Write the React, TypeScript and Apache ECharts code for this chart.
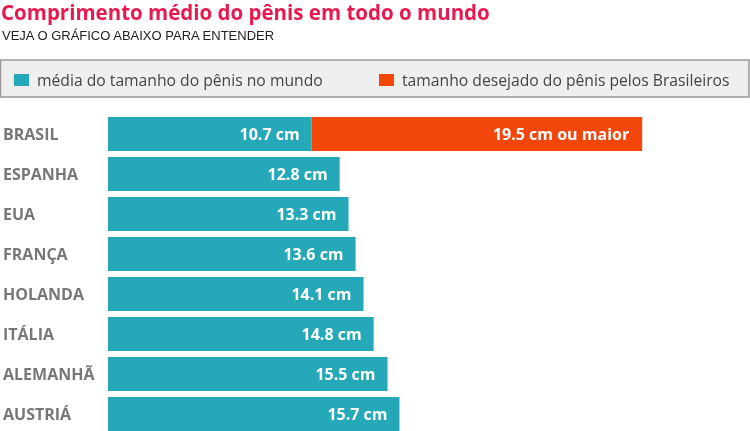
import React, { useEffect, useRef } from "react";
import * as echarts from "echarts";

const categories = ["BRASIL", "ESPANHA", "EUA", "FRANÇA", "HOLANDA", "ITÁLIA", "ALEMANHÃ", "AUSTRIÁ"];
// bar lengths as drawn in the picture (in cm-scale units)
const averageLength = [11.27, 12.82, 13.31, 13.7, 14.14, 14.7, 15.47, 16.13];
const averageLabels = ["10.7 cm", "12.8 cm", "13.3 cm", "13.6 cm", "14.1 cm", "14.8 cm", "15.5 cm", "15.7 cm"];
const desiredLength = [18.29, null, null, null, null, null, null, null];
const desiredLabels = ["19.5 cm ou maior", "", "", "", "", "", "", ""];

const seriesNames = ["média do tamanho do pênis no mundo", "tamanho desejado do pênis pelos Brasileiros"];
const titleText = "Comprimento médio do pênis em todo o mundo";
const subtitleText = "VEJA O GRÁFICO ABAIXO PARA ENTENDER";

const TEAL = "#25A9B8";
const ORANGE = "#F3460B";
const FONT = "'Open Sans', sans-serif";

export default function App() {
  const ref = useRef<HTMLDivElement>(null);
  useEffect(() => {
    if (!ref.current) return;
    const chart = echarts.init(ref.current, null, { renderer: "svg" });
    const legendText = { fontFamily: FONT, fontSize: 15.7, color: "#444", padding: [0, 0, 0, 3] };
    chart.setOption({
      animation: false,
      title: [
        {
          text: titleText,
          left: 1,
          top: 1,
          padding: 0,
          textStyle: { fontFamily: FONT, fontWeight: "bold", fontSize: 20.5, lineHeight: 22, color: "#E8194F" },
        },
        {
          text: subtitleText,
          left: 2,
          top: 29,
          padding: 0,
          textStyle: { fontFamily: "'Liberation Sans', Arial, sans-serif", fontWeight: "normal", fontSize: 13, color: "#222" },
        },
      ],
      graphic: [
        {
          type: "rect",
          shape: { x: 0.5, y: 60, width: 748.5, height: 37 },
          style: { fill: "#efefef", stroke: "#999", lineWidth: 1.5 },
          z: -1,
        },
      ],
      legend: [
        {
          data: [seriesNames[0]],
          left: 14,
          top: 72,
          padding: 0,
          itemWidth: 15,
          itemHeight: 12,
          icon: "rect",
          textStyle: legendText,
        },
        {
          data: [seriesNames[1]],
          left: 379,
          top: 72,
          padding: 0,
          itemWidth: 15,
          itemHeight: 12,
          icon: "rect",
          textStyle: legendText,
        },
      ],
      grid: { left: 107, top: 114, right: 9.5, bottom: 0, containLabel: false },
      xAxis: { type: "value", min: 0, max: 35, show: false },
      yAxis: {
        type: "category",
        data: categories,
        inverse: true,
        axisLine: { show: false },
        axisTick: { show: false },
        axisLabel: {
          align: "left",
          margin: 105,
          fontFamily: FONT,
          fontWeight: "bold",
          fontSize: 16,
          color: "#777",
        },
      },
      series: [
        {
          name: seriesNames[0],
          type: "bar",
          stack: "total",
          barWidth: 34,
          itemStyle: { color: TEAL },
          data: averageLength,
          label: {
            show: true,
            position: "insideRight",
            distance: 12,
            fontFamily: FONT,
            fontWeight: "bold",
            fontSize: 16,
            color: "#fff",
            formatter: (p: any) => averageLabels[p.dataIndex],
          },
        },
        {
          name: seriesNames[1],
          type: "bar",
          stack: "total",
          barWidth: 34,
          itemStyle: { color: ORANGE },
          data: desiredLength,
          label: {
            show: true,
            position: "insideRight",
            distance: 13,
            fontFamily: FONT,
            fontWeight: "bold",
            fontSize: 16,
            color: "#fff",
            formatter: (p: any) => desiredLabels[p.dataIndex],
          },
        },
      ],
    });
    return () => chart.dispose();
  }, []);
  return <div ref={ref} style={{ position: "fixed", left: 0, top: 0, width: 750, height: 434 }} />;
}
